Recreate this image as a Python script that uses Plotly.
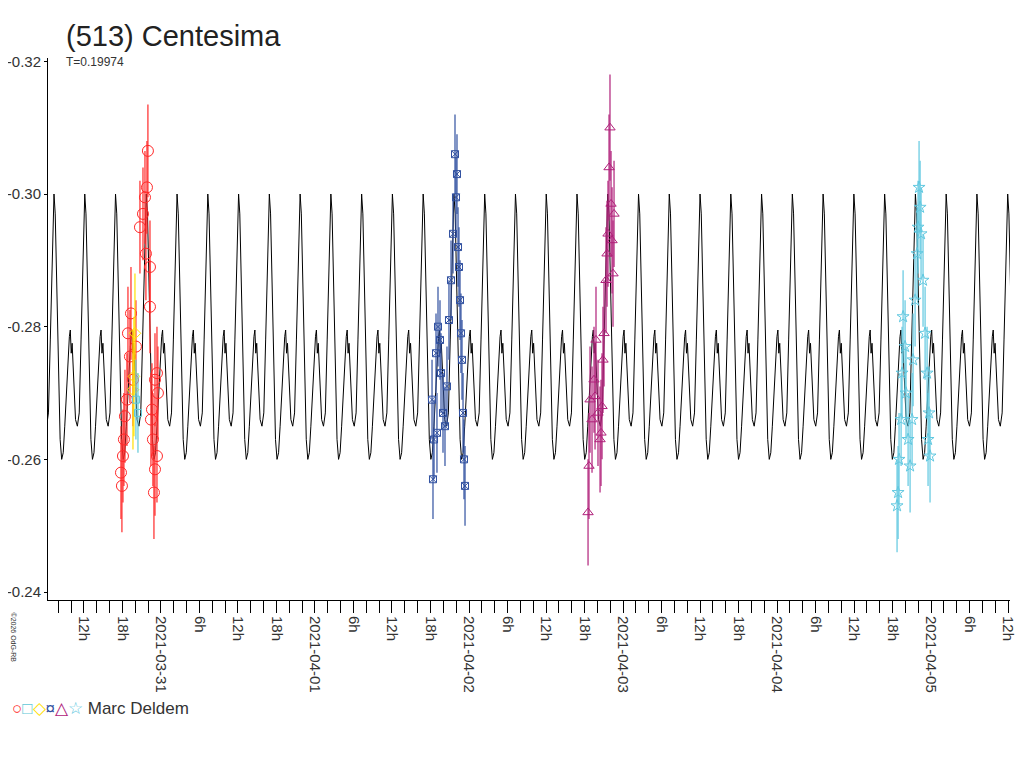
import datetime as dt
import numpy as np
import plotly.graph_objects as go

# rotation period (days) and phase profile of the model curve, phase 0 = main max
period = 0.19974
model_phase = [0.00, 0.04, 0.09, 0.15, 0.20, 0.25, 0.30, 0.35, 0.42, 0.50, 0.53, 0.56,
               0.59, 0.64, 0.70, 0.76, 0.82, 0.88, 0.95, 1.00]
model_mag = [-0.300, -0.297, -0.287, -0.273, -0.263, -0.260, -0.261, -0.265, -0.272, -0.2785,
             -0.2795, -0.276, -0.2775, -0.272, -0.266, -0.265, -0.267, -0.278, -0.293, -0.300]
model_epoch = dt.datetime(2021, 3, 30, 7, 20)

# sessions: hours relative to midnight of the given day, magnitudes, errors
red_day = dt.datetime(2021, 3, 31)
red_h = [-6.08, -6.23, -5.92, -5.77, -5.61, -5.30, -4.83, -4.67, -4.36, -3.90, -3.27, -2.80,
         -2.49, -2.18, -2.03, -2.34, -1.71, -1.71, -1.56, -1.25, -0.93, -1.09, -0.62, -0.47,
         -0.62, -1.40, -0.93, -5.14]
red_mag = [-0.256, -0.258, -0.2605, -0.263, -0.2665, -0.269, -0.2755, -0.282, -0.272, -0.277,
           -0.295, -0.297, -0.2995, -0.301, -0.3065, -0.291, -0.289, -0.283, -0.266, -0.263,
           -0.2585, -0.255, -0.2605, -0.270, -0.273, -0.2675, -0.272, -0.279]
red_err = 0.007

yellow_h = [-4.05, -4.21, -4.36]
yellow_mag = [-0.279, -0.2725, -0.2705]
cyan_sq_h = [-3.90, -3.58]
cyan_sq_mag = [-0.269, -0.267]

blue_day = dt.datetime(2021, 4, 2)
blue_h = [-5.76, -5.61, -5.45, -5.14, -4.83, -4.52, -4.36, -4.05, -3.74, -3.43, -3.12, -2.80,
          -2.49, -2.18, -2.03, -1.87, -1.71, -1.56, -1.25, -1.09, -0.93, -0.78, -0.62, -1.40,
          -4.99]
blue_mag = [-0.269, -0.257, -0.263, -0.276, -0.280, -0.278, -0.273, -0.267, -0.265, -0.271,
            -0.281, -0.287, -0.294, -0.306, -0.2995, -0.303, -0.292, -0.289, -0.279, -0.275,
            -0.267, -0.260, -0.256, -0.284, -0.264]

purple_day = dt.datetime(2021, 4, 3)
purple_h = [-5.45, -5.30, -5.14, -4.83, -4.52, -4.21, -3.90, -3.58, -3.43, -3.12, -2.96, -2.65,
            -2.49, -2.34, -2.18, -2.03, -1.87, -1.71, -1.56, -1.40, -4.36, -3.27]
purple_mag = [-0.252, -0.259, -0.269, -0.266, -0.272, -0.278, -0.267, -0.263, -0.264, -0.275,
              -0.279, -0.287, -0.291, -0.294, -0.304, -0.310, -0.2985, -0.293, -0.288, -0.297,
              -0.2695, -0.268]

star_day = dt.datetime(2021, 4, 5)
star_h = [-5.30, -5.14, -4.99, -4.67, -4.52, -4.36, -4.05, -3.90, -3.58, -3.27, -2.96, -2.80,
          -2.49, -2.18, -2.03, -1.87, -1.71, -1.56, -1.25, -0.93, -0.62, -0.31, -0.16, -0.47]
star_mag = [-0.253, -0.255, -0.260, -0.266, -0.273, -0.2815, -0.277, -0.270, -0.263, -0.259,
            -0.266, -0.275, -0.284, -0.291, -0.295, -0.301, -0.298, -0.294, -0.287, -0.279,
            -0.273, -0.267, -0.2605, -0.263]

x_start = dt.datetime(2021, 3, 30, 6, 24)
x_end = dt.datetime(2021, 4, 5, 12, 18)

FONT = "Liberation Sans, Arial, sans-serif"


def times(day, hours):
    return [day + dt.timedelta(hours=h) for h in hours]


# tile the phase profile across the plotted range
mt, mm = [], []
for n in range(-2, 33):
    for p, m in zip(model_phase[:-1], model_mag[:-1]):
        mt.append(model_epoch + dt.timedelta(days=(n + p) * period))
        mm.append(m)

fig = go.Figure()
fig.add_trace(go.Scatter(x=mt, y=mm, mode="lines", line=dict(color="black", width=1),
                         showlegend=False))


def add_obs(day, hours, mags, err, color, symbol, size=9):
    fig.add_trace(go.Scatter(
        x=times(day, hours), y=mags, mode="markers",
        marker=dict(symbol=symbol, size=size, color=color, line=dict(width=1, color=color)),
        error_y=dict(type="constant", value=err, color=color, thickness=1.2, width=0),
        showlegend=False))


add_obs(red_day, red_h, red_mag, red_err, "#ff2828", "circle-open", 11)
add_obs(red_day, yellow_h, yellow_mag, 0.009, "#ffe000", "diamond-open", 9)
add_obs(red_day, cyan_sq_h, cyan_sq_mag, 0.006, "#60c8d8", "square-open", 7)
add_obs(blue_day, blue_h, blue_mag, 0.006, "#3050a0", "square-x-open", 7)
add_obs(purple_day, purple_h, purple_mag, 0.008, "#b0207a", "triangle-up-open", 9)
add_obs(star_day, star_h, star_mag, 0.007, "#60c8e0", "star-open", 9)

# tick labels every 6h, dates at midnight
tickvals, ticktext = [], []
t = dt.datetime(2021, 3, 30, 12)
while t <= x_end:
    tickvals.append(t)
    ticktext.append(t.strftime("%Y-%m-%d") if t.hour == 0 else f"{t.hour}h")
    t += dt.timedelta(hours=6)

fig.update_xaxes(range=[x_start, x_end], tickvals=tickvals, ticktext=ticktext,
                 tickangle=90, ticks="outside", ticklen=12, tickcolor="black",
                 minor=dict(dtick=2 * 3600000, tick0="2021-03-30", ticks="outside",
                            ticklen=12, tickcolor="black"),
                 showline=True, linecolor="black", showgrid=False, zeroline=False,
                 automargin=False, tickfont=dict(size=15, color="#333"))
fig.update_yaxes(range=[-0.2388, -0.3205], tickvals=[-0.32, -0.30, -0.28, -0.26, -0.24],
                 ticktext=["-0.32", "-0.30", "-0.28", "-0.26", "-0.24"],
                 ticks="outside", ticklen=3, tickcolor="black",
                 showline=True, linecolor="black", showgrid=False, zeroline=False,
                 automargin=False, tickfont=dict(size=15, color="#333"))

fig.add_annotation(text="(513) Centesima", xref="paper", yref="paper", x=0.017, y=1.0,
                   yshift=22, xanchor="left", yanchor="middle", showarrow=False,
                   font=dict(size=29, color="#222", family=FONT))
fig.add_annotation(text="T=0.19974", xref="paper", yref="paper", x=0.017, y=1.0,
                   yshift=-4, xanchor="left", yanchor="middle", showarrow=False,
                   font=dict(size=12, color="#333", family=FONT))
fig.add_annotation(text="©2026 OdG-RB", textangle=90, xref="paper", yref="paper",
                   x=-0.036, y=-0.02, xanchor="center", yanchor="top", showarrow=False,
                   font=dict(size=7, color="#333", family=FONT))
fig.add_annotation(
    text=("<span style='color:#ff2828'>○</span><span style='color:#60c8d8'>□</span>"
          "<span style='color:#ffe000'>◇</span><span style='color:#3050a0'>¤</span>"
          "<span style='color:#b0207a'>△</span><span style='color:#60c8e0'>☆</span>"
          " Marc Deldem"),
    xref="paper", yref="paper", x=-0.04, y=-0.2, xanchor="left", yanchor="middle",
    showarrow=False, font=dict(size=17, color="#333", family=FONT))

fig.update_layout(width=1024, height=768, plot_bgcolor="white", paper_bgcolor="white",
                  margin=dict(l=40, r=22, t=50, b=176), font=dict(family=FONT),
                  showlegend=False)

fig.write_html("out.html")
